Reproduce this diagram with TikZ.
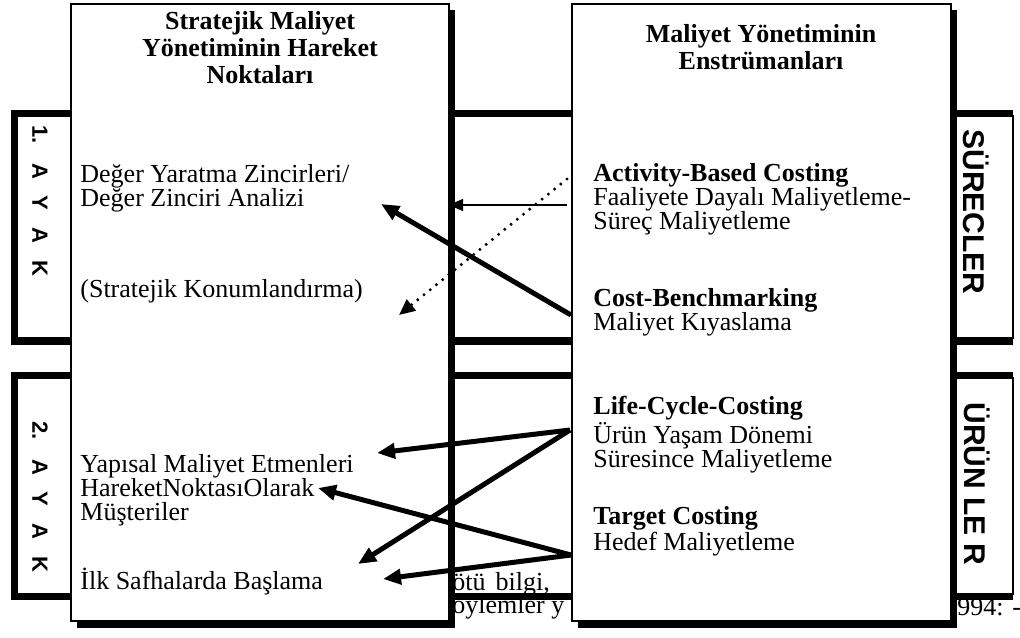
\documentclass[tikz,border=0pt]{standalone}
\usepackage{fontspec}
\setmainfont{Liberation Serif}
\setsansfont{Liberation Sans}
\usetikzlibrary{arrows.meta}

\begin{document}
\begin{tikzpicture}[x=0.5pt,y=-0.5pt,
    body/.style={anchor=north west,align=left,inner sep=0pt,font=\fontsize{13}{12}\selectfont},
    head/.style={anchor=north,align=center,inner sep=0pt,font=\fontsize{13}{13.5}\selectfont\bfseries},
    frag/.style={anchor=west,inner sep=0pt,font=\fontsize{13}{12}\selectfont},
    ayak/.style={rotate=-90,inner sep=0pt,font=\fontsize{11}{12}\selectfont\sffamily\bfseries},
    grup/.style={rotate=-90,inner sep=0pt,font=\fontsize{15}{16}\selectfont\sffamily\bfseries},
    kalin/.style={line width=2.5pt,-{Triangle[length=9pt,width=7.5pt]}},
    ince/.style={line width=0.7pt,-{Triangle[length=7pt,width=6pt]}},
    nokta/.style={line width=1.7pt,line cap=round,dash pattern=on 0pt off 4pt,-{Triangle[length=8pt,width=7pt]}}]
      \useasboundingbox (0,0) rectangle (1020,637);
      \fill (11,110) rectangle (1013,345);
      \filldraw[fill=white,line width=0.6pt] (17,116) rectangle (1013,338);
      \fill (11,372) rectangle (1013,600);
      \filldraw[fill=white,line width=0.6pt] (17,378) rectangle (1013,594);
      \node (ayak1) at (40,201) [ayak] {\spaceskip=8.5pt 1. A Y A K};
      \node (ayak2) at (40,497) [ayak] {\spaceskip=8.5pt 2. A Y A K};
      \node (surec) at (976,212) [grup] {SÜRECLER};
      \node (urun) at (977,484) [grup] {ÜRÜN LE R};
      \node (kotu) at (452,584) [frag] {ötü\hspace{5pt}bilgi,};
      \node (soyle) at (452,607) [frag] {öylemler y};
      \node (yil) at (957,607) [frag] {994: -};
      \fill (77,10) rectangle (455,628);
      \filldraw[fill=white,line width=0.6pt] (71,4) rectangle (449,621);
      \fill (578,10) rectangle (957,628);
      \filldraw[fill=white,line width=0.6pt] (572,4) rectangle (951,621);
      \node (sol) at (260,11) [head] {Stratejik Maliyet\\Yönetiminin Hareket\\Noktaları};
      \node (sag) at (761,24) [head] {Maliyet Yönetiminin\\Enstrümanları};
      \node (deger) at (80,164) [body] {Değer Yaratma Zincirleri/\\Değer Zinciri Analizi};
      \node (konum) at (80,279) [body] {(Stratejik Konumlandırma)};
      \node (yapi) at (80,454) [body] {Yapısal Maliyet Etmenleri\\HareketNoktasıOlarak\\Müşteriler};
      \node (ilk) at (80,568) [body] {İlk Safhalarda Başlama};
      \node (abc) at (593,163) [body] {\textbf{Activity-Based Costing}\\Faaliyete Dayalı Maliyetleme-\\Süreç Maliyetleme};
      \node (bench) at (593,288) [body] {\textbf{Cost-Benchmarking}\\Maliyet Kıyaslama};
      \node (lcc) at (593,396) [body] {\textbf{Life-Cycle-Costing}\\Ürün Yaşam Dönemi\\Süresince Maliyetleme};
      \node (hedef) at (593,506) [body] {\textbf{Target Costing}\\Hedef Maliyetleme};
      \coordinate (abc1) at (567,205);
      \coordinate (abc2) at (567,179);
      \coordinate (bench1) at (571,315);
      \coordinate (lcc1) at (570,430);
      \coordinate (hedef1) at (571,555);
      \coordinate (deger1) at (449,205);
      \coordinate (deger2) at (381,204);
      \coordinate (konum1) at (399,315);
      \coordinate (yapi1) at (377,453);
      \coordinate (yapi2) at (318,488);
      \coordinate (ilk1) at (358,564);
      \coordinate (ilk2) at (383,579);
      \draw[ince] (abc1) to (deger1);
      \draw[nokta] (abc2) to (konum1);
      \draw[kalin] (bench1) to (deger2);
      \draw[kalin] (lcc1) to (yapi1);
      \draw[kalin] (lcc1) to (ilk1);
      \draw[kalin] (hedef1) to (yapi2);
      \draw[kalin] (hedef1) to (ilk2);
    \end{tikzpicture}
\end{document}
